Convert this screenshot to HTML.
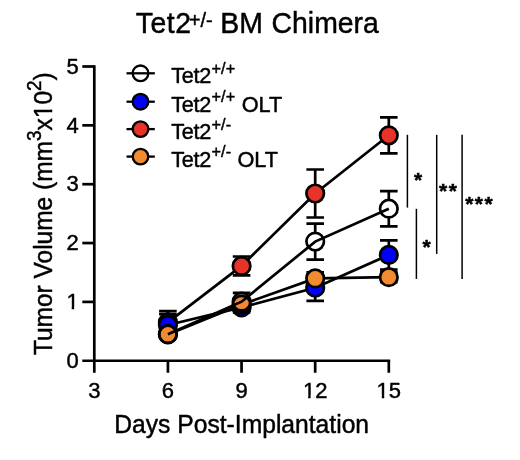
<!DOCTYPE html>
<html><head><meta charset="utf-8"><title>Tet2+/- BM Chimera</title>
<style>
html,body{margin:0;padding:0;background:#fff;}
svg{display:block;font-family:"Liberation Sans",Arial,Helvetica,sans-serif;fill:#000;}
text{stroke:#000;stroke-width:0.45px;stroke-linejoin:round;}
</style></head><body>
<svg width="520" height="460" viewBox="0 0 520 460">
<rect width="520" height="460" fill="#fff"/>
<text transform="translate(0,33.1) scale(1,1.035)" font-size="28.4"><tspan x="135.8" letter-spacing="0.5">Tet2</tspan><tspan x="189.0" dy="-5.7" font-size="19.8">+/-</tspan><tspan x="212.4" dy="5.7"> BM</tspan><tspan x="263.7"> Chimera</tspan></text>
<text transform="translate(51.6,355.1) rotate(-90) scale(1,1.03)" font-size="24.5">Tumor Volume (mm<tspan dy="-10" font-size="19">3</tspan><tspan dy="10">x10</tspan><tspan dy="-10" font-size="19">2</tspan><tspan dy="10">)</tspan></text>
<text transform="translate(114.3,432.5) scale(1,1.03)" font-size="24.65">Days Post-Implantation</text>
<g stroke="#000" stroke-width="2.7" fill="none">
<path d="M94.30 65.15V372.75"/>
<path d="M82.30 360.75H390.15"/>
<path d="M82.30 301.90H94.30"/>
<path d="M82.30 243.05H94.30"/>
<path d="M82.30 184.20H94.30"/>
<path d="M82.30 125.35H94.30"/>
<path d="M82.30 66.50H94.30"/>
<path d="M167.93 360.75V372.75"/>
<path d="M241.55 360.75V372.75"/>
<path d="M315.18 360.75V372.75"/>
<path d="M388.80 360.75V372.75"/>
</g>
<text x="78.7" y="367.9" text-anchor="end" font-size="22">0</text>
<text x="78.7" y="309.1" text-anchor="end" font-size="22">1</text>
<text x="78.7" y="250.2" text-anchor="end" font-size="22">2</text>
<text x="78.7" y="191.4" text-anchor="end" font-size="22">3</text>
<text x="78.7" y="132.5" text-anchor="end" font-size="22">4</text>
<text x="78.7" y="73.7" text-anchor="end" font-size="22">5</text>
<text x="94.3" y="398.1" text-anchor="middle" font-size="22">3</text>
<text x="167.9" y="398.1" text-anchor="middle" font-size="22">6</text>
<text x="241.6" y="398.1" text-anchor="middle" font-size="22">9</text>
<text x="315.2" y="398.1" text-anchor="middle" font-size="22">12</text>
<text x="388.8" y="398.1" text-anchor="middle" font-size="22">15</text>
<rect x="67.32" y="306.70" width="4.35" height="4.00" fill="#fff"/><rect x="74.14" y="306.70" width="4.13" height="4.00" fill="#fff"/>
<rect x="303.79" y="395.65" width="4.35" height="4.00" fill="#fff"/><rect x="310.61" y="395.65" width="4.13" height="4.00" fill="#fff"/>
<rect x="377.42" y="395.65" width="4.35" height="4.00" fill="#fff"/><rect x="384.24" y="395.65" width="4.13" height="4.00" fill="#fff"/>
<g transform="translate(51.6,355.1) rotate(-90)"><rect x="238.05" y="-2.59" width="4.79" height="4.19" fill="#fff"/><rect x="245.52" y="-2.59" width="4.54" height="4.19" fill="#fff"/></g>
<g stroke="#000" stroke-width="2.7" fill="none"><path d="M167.9 311.2V333.6M159.1 311.2h17.6M159.1 333.6h17.6"/>
<path d="M241.6 256.5V275.3M232.8 256.5h17.6M232.8 275.3h17.6"/>
<path d="M315.2 169.5V217.5M306.4 169.5h17.6M306.4 217.5h17.6"/>
<path d="M388.8 117.3V153.4M380.0 117.3h17.6M380.0 153.4h17.6"/>
<polyline points="167.9,322.4 241.6,265.9 315.2,193.5 388.8,135.3"/>
<circle cx="167.9" cy="322.4" r="8.75" fill="#e8332a"/>
<circle cx="241.6" cy="265.9" r="8.75" fill="#e8332a"/>
<circle cx="315.2" cy="193.5" r="8.75" fill="#e8332a"/>
<circle cx="388.8" cy="135.3" r="8.75" fill="#e8332a"/></g>
<g stroke="#000" stroke-width="2.7" fill="none"><path d="M167.9 314.1V335.9M159.1 314.1h17.6M159.1 335.9h17.6"/>
<path d="M241.6 302.4V312.4M232.8 302.4h17.6M232.8 312.4h17.6"/>
<path d="M315.2 274.6V300.8M306.4 274.6h17.6M306.4 300.8h17.6"/>
<path d="M388.8 240.3V269.5M380.0 240.3h17.6M380.0 269.5h17.6"/>
<polyline points="167.9,325.0 241.6,307.4 315.2,287.7 388.8,254.9"/>
<circle cx="167.9" cy="325.0" r="8.75" fill="#0000f5"/>
<circle cx="241.6" cy="307.4" r="8.75" fill="#0000f5"/>
<circle cx="315.2" cy="287.7" r="8.75" fill="#0000f5"/>
<circle cx="388.8" cy="254.9" r="8.75" fill="#0000f5"/></g>
<g stroke="#000" stroke-width="2.7" fill="none"><path d="M167.9 330.4V338.4M159.1 330.4h17.6M159.1 338.4h17.6"/>
<path d="M241.6 299.6V309.6M232.8 299.6h17.6M232.8 309.6h17.6"/>
<path d="M315.2 272.4V284.4M306.4 272.4h17.6M306.4 284.4h17.6"/>
<path d="M388.8 272.2V282.2M380.0 272.2h17.6M380.0 282.2h17.6"/>
<polyline points="167.9,334.4 241.6,304.6 315.2,278.4 388.8,277.2"/>
<circle cx="167.9" cy="334.4" r="8.75" fill="#f28a32"/>
<circle cx="241.6" cy="304.6" r="8.75" fill="#f28a32"/>
<circle cx="315.2" cy="278.4" r="8.75" fill="#f28a32"/>
<circle cx="388.8" cy="277.2" r="8.75" fill="#f28a32"/></g>
<g stroke="#000" stroke-width="2.7" fill="none"><path d="M232.8 292.8h17.6M232.8 310.6h17.6"/>
<path d="M315.2 223.6V232.8M315.2 250.3V259.6M306.4 223.6h17.6M306.4 259.6h17.6"/>
<path d="M388.8 191.1V199.9M388.8 217.4V226.3M380.0 191.1h17.6M380.0 226.3h17.6"/>
<circle cx="167.9" cy="334.2" r="8.75" fill="none"/>
<circle cx="241.6" cy="301.7" r="8.75" fill="none"/>
<circle cx="315.2" cy="241.6" r="8.75" fill="none"/>
<circle cx="388.8" cy="208.7" r="8.75" fill="none"/>
<polyline points="167.9,334.2 241.6,301.7 315.2,241.6 388.8,208.7"/></g>
<circle cx="140.5" cy="73.3" r="7.8" fill="none" stroke="#000" stroke-width="2.35"/>
<path d="M126.5 73.3H154.8" stroke="#000" stroke-width="2.3"/>
<text transform="translate(171.3,83.3) scale(1,1.03)" font-size="21.7"><tspan letter-spacing="-0.35">Tet2</tspan><tspan x="40.3" dy="-9.3" font-size="16.3">+/+</tspan></text>
<path d="M126.5 101.7H154.8" stroke="#000" stroke-width="2.3"/>
<circle cx="140.5" cy="101.7" r="7.8" fill="#0000f5" stroke="#000" stroke-width="2.35"/>
<text transform="translate(171.3,111.7) scale(1,1.03)" font-size="21.7"><tspan letter-spacing="-0.35">Tet2</tspan><tspan x="40.3" dy="-9.3" font-size="16.3">+/+</tspan><tspan x="64.37" dy="9.3"> OLT</tspan></text>
<path d="M126.5 129.1H154.8" stroke="#000" stroke-width="2.3"/>
<circle cx="140.5" cy="129.1" r="7.8" fill="#e8332a" stroke="#000" stroke-width="2.35"/>
<text transform="translate(171.3,139.1) scale(1,1.03)" font-size="21.7"><tspan letter-spacing="-0.35">Tet2</tspan><tspan x="40.3" dy="-9.3" font-size="16.3">+/-</tspan></text>
<path d="M126.5 156.6H154.8" stroke="#000" stroke-width="2.3"/>
<circle cx="140.5" cy="156.6" r="7.8" fill="#f28a32" stroke="#000" stroke-width="2.35"/>
<text transform="translate(171.3,166.6) scale(1,1.03)" font-size="21.7"><tspan letter-spacing="-0.35">Tet2</tspan><tspan x="40.3" dy="-9.3" font-size="16.3">+/-</tspan><tspan x="60.17" dy="9.3"> OLT</tspan></text>

<g stroke="#000" stroke-width="1.5" fill="none">
<path d="M407.4 134.8V207.6"/>
<path d="M416.4 208.8V278.9"/>
<path d="M436.7 134.8V253.9"/>
<path d="M462.1 134.8V278.9"/>
</g>
<g font-size="21" font-weight="bold" letter-spacing="1.5">
<text x="413.9" y="187.2">*</text>
<text x="422.6" y="254.2">*</text>
<text x="439.1" y="198.2">**</text>
<text x="465.2" y="211.4">***</text>
</g>

</svg>
</body></html>
